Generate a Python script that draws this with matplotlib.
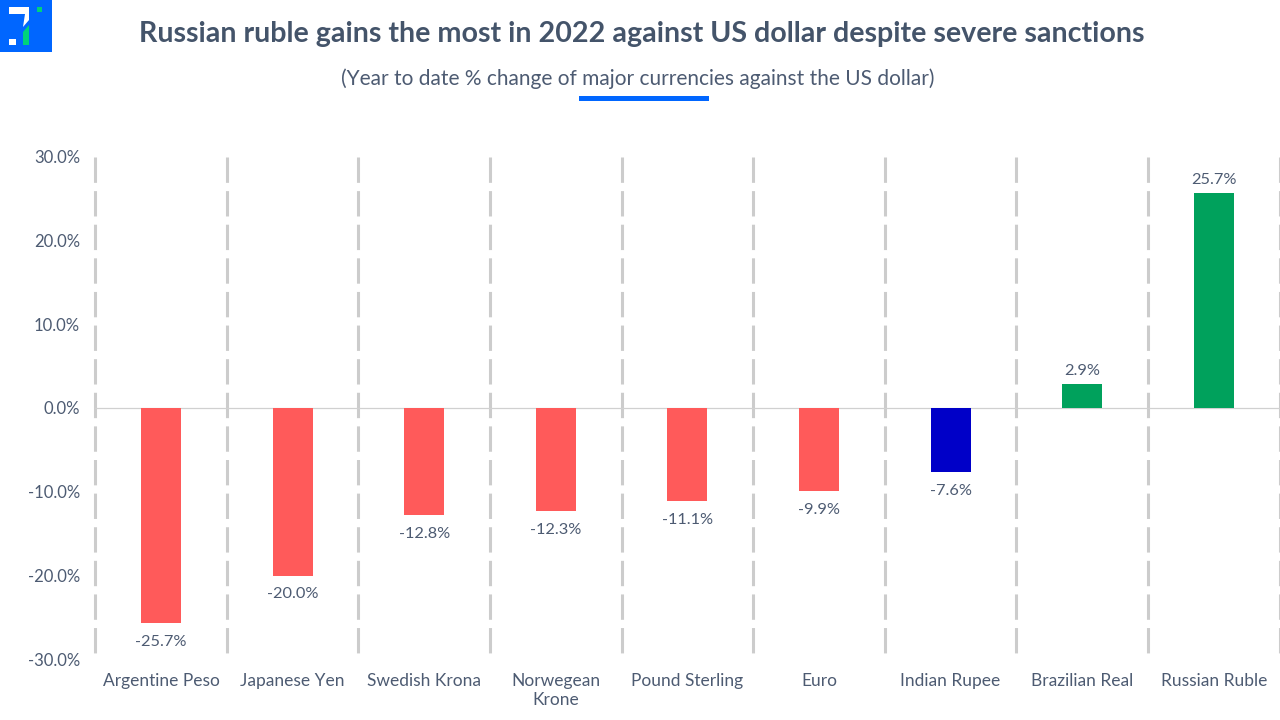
import matplotlib
matplotlib.use('Agg')
import matplotlib.pyplot as plt
from matplotlib.patches import Rectangle, Polygon
from matplotlib.ticker import FuncFormatter

plt.rcParams['font.family'] = ['Lato', 'DejaVu Sans']

# values
currencies = ['Argentine Peso', 'Japanese Yen', 'Swedish Krona', 'Norwegean\nKrone', 'Pound Sterling',
              'Euro', 'Indian Rupee', 'Brazilian Real', 'Russian Ruble']
changes = [-25.7, -20.0, -12.8, -12.3, -11.1, -9.9, -7.6, 2.9, 25.7]
bar_colors = ['#ff5a5a', '#ff5a5a', '#ff5a5a', '#ff5a5a', '#ff5a5a', '#ff5a5a', '#0000c8', '#00a15c', '#00a15c']
y_ticks = [-30, -20, -10, 0, 10, 20, 30]

title = 'Russian ruble gains the most in 2022 against US dollar despite severe sanctions'
subtitle = '(Year to date % change of major currencies against the US dollar)'

title_color = '#44546a'
text_color = '#4d5b72'
W, H = 1280, 720

fig = plt.figure(figsize=(12.8, 7.2), dpi=100)
ax = fig.add_axes([95.2 / W, 1 - 659.5 / H, 1184.3 / W, 503 / H])


def fx(px):
    return px / W


def fy(px):
    return 1 - px / H


def pix_rect(x0, y0, x1, y1, color):
    fig.add_artist(Rectangle((fx(x0), fy(y1)), (x1 - x0) / W, (y1 - y0) / H,
                             transform=fig.transFigure, facecolor=color, edgecolor='none'))


# bars
xpos = list(range(len(currencies)))
ax.bar(xpos, changes, width=0.304, color=bar_colors, zorder=3)
ax.set_xlim(-0.5, len(currencies) - 0.5)
ax.set_ylim(-30, 30)

# dashed separators between categories, drawn from the top so the dashes line up
for i in range(len(currencies) + 1):
    ax.plot([i - 0.5, i - 0.5], [30, -30], color='#cccccc', lw=2.2, dashes=(8.3, 2.7),
            dash_capstyle='butt', clip_on=False, zorder=1)
ax.axhline(0, color='#d0d0d0', lw=0.9, zorder=2)

for x, v in zip(xpos, changes):
    off = 4 if v > 0 else -8.5
    ax.annotate(f'{v:.1f}%', (x, v), xytext=(0, off), textcoords='offset points', ha='center',
                va='bottom' if v > 0 else 'top', fontsize=11.8, color=text_color)

for s in ax.spines.values():
    s.set_visible(False)
ax.set_yticks(y_ticks)
ax.yaxis.set_major_formatter(FuncFormatter(lambda v, p: f'{v:.1f}%'))
ax.set_xticks(xpos)
ax.set_xticklabels(currencies, linespacing=1.25)
ax.tick_params(axis='both', length=0, labelsize=12, labelcolor=text_color)
ax.tick_params(axis='y', pad=11)
ax.tick_params(axis='x', pad=9.5)
for lab in ax.get_xticklabels():
    lab.set_fontsize(12.5)

fig.text(fx(642), fy(34), title, ha='center', va='center', fontsize=20.6, fontweight='bold', color=title_color)
fig.text(fx(637.5), fy(79), subtitle, ha='center', va='center', fontsize=15, color=text_color)
pix_rect(579, 96, 709, 101, '#0066ff')

# logo
pix_rect(0, 0, 52, 52, '#0066ff')
pix_rect(9, 39, 16, 45, '#ffffff')
pix_rect(37, 7, 42, 12, '#00d27a')
fig.add_artist(Polygon([(fx(9), fy(7)), (fx(29), fy(7)), (fx(29), fy(20)), (fx(23), fy(27)), (fx(25), fy(14)), (fx(9), fy(14))],
                       transform=fig.transFigure, facecolor='#ffffff', edgecolor='none'))
fig.add_artist(Polygon([(fx(23), fy(32)), (fx(29), fy(25)), (fx(29), fy(45)), (fx(23), fy(45))],
                       transform=fig.transFigure, facecolor='#00d27a', edgecolor='none'))

fig.savefig('out.png', dpi=100)
